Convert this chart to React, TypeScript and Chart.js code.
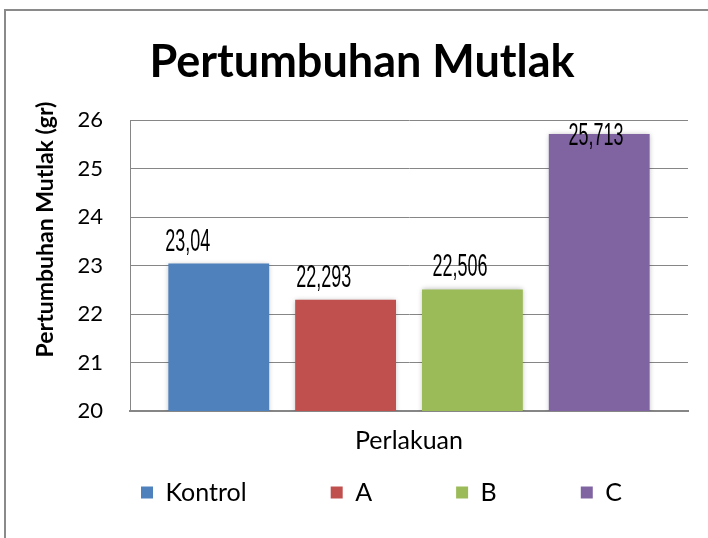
import React, { useEffect, useRef } from 'react';
import { Chart, registerables } from 'chart.js';

Chart.register(...registerables);

// ---- data ----
const categories: string[] = ['Kontrol', 'A', 'B', 'C'];
const values: number[] = [23.04, 22.293, 22.506, 25.713];
const colors: string[] = ['#4F81BD', '#C0504D', '#9BBB59', '#8064A2'];
const yTicks: number[] = [20, 21, 22, 23, 24, 25, 26];
const chartTitle = 'Pertumbuhan Mutlak';
const yTitle = 'Pertumbuhan Mutlak (gr)';
const xTitle = 'Perlakuan';

// ---- styles ----
const FONT = "Lato, 'Open Sans', sans-serif";
const GRID = '#868686';
const LABEL_SPREAD = 1.073;
const LABEL_SHIFT = -37.5;
const LABEL_GAP = 13;
const LABEL_MIN_TOP = 25;
const LABEL_SQUEEZE = 0.58;
const LEGEND_INDENT = 11;
const LEGEND_ITEM_OFFSET = 22;

const fmt = (v: number) => String(v).replace('.', ',');

const shadowPlugin = {
  id: 'barShadow',
  beforeDatasetsDraw(chart: any) {
    const ctx = chart.ctx;
    ctx.save();
    ctx.shadowColor = 'rgba(0,0,0,0.28)';
    ctx.shadowBlur = 5;
    ctx.shadowOffsetX = 0;
    ctx.shadowOffsetY = 0;
  },
  afterDatasetsDraw(chart: any) {
    chart.ctx.restore();
  },
};

const valueLabelPlugin = {
  id: 'valueLabels',
  afterDatasetsDraw(chart: any) {
    const { ctx, chartArea } = chart;
    const meta = chart.getDatasetMeta(0);
    ctx.save();
    ctx.fillStyle = '#000';
    ctx.font = "31px 'Liberation Sans', Arial, sans-serif";
    ctx.textAlign = 'center';
    ctx.textBaseline = 'alphabetic';
    meta.data.forEach((bar: any, i: number) => {
      const x = chartArea.left + (bar.x - chartArea.left) * LABEL_SPREAD + LABEL_SHIFT;
      const y = Math.max(bar.y - LABEL_GAP, chartArea.top + LABEL_MIN_TOP);
      ctx.save();
      ctx.translate(x, y);
      ctx.scale(LABEL_SQUEEZE, 1);
      ctx.fillText(fmt(values[i]), 0, 0);
      ctx.restore();
    });
    ctx.restore();
  },
};

const yTitlePlugin = {
  id: 'yTitle',
  afterDraw(chart: any) {
    const { ctx, chartArea } = chart;
    ctx.save();
    ctx.translate(chartArea.left - 84, (chartArea.top + chartArea.bottom) / 2 - 36);
    ctx.rotate(-Math.PI / 2);
    ctx.font = `bold 23px ${FONT}`;
    ctx.fillStyle = '#000';
    ctx.textAlign = 'center';
    ctx.textBaseline = 'middle';
    ctx.fillText(yTitle, 0, 0);
    ctx.restore();
  },
};

const legendPlacePlugin = {
  id: 'legendPlace',
  afterLayout(chart: any) {
    const lg = chart.legend;
    if (!lg) return;
    const P = lg.options.labels.padding;
    const dx = chart.chartArea.left + LEGEND_INDENT - (lg.left + P);
    lg.left += dx;
    lg.right += dx;
    lg.top += LEGEND_ITEM_OFFSET - P;
  },
};

export default function App() {
  const ref = useRef<HTMLCanvasElement | null>(null);

  useEffect(() => {
    if (!ref.current) return;
    const chart = new Chart(ref.current, {
      type: 'bar',
      data: {
        labels: categories,
        datasets: [
          {
            label: chartTitle,
            data: values.map((v, i) => ({ x: i, y: v })),
            backgroundColor: colors,
            borderWidth: 0,
            barPercentage: 0.795,
            categoryPercentage: 1,
          },
        ],
      },
      options: {
        responsive: false,
        animation: false,
        layout: { padding: { left: 16, right: 0, top: 0, bottom: 0 } },
        scales: {
          x: {
            type: 'linear',
            offset: false,
            min: -0.7,
            max: categories.length - 0.3,
            afterBuildTicks: (axis: any) => {
              axis.ticks = categories.map((_, i) => ({ value: i }));
            },
            ticks: { display: false },
            grid: { display: false, drawTicks: false },
            border: { display: true, color: GRID, width: 2 },
            title: {
              display: true,
              text: xTitle,
              color: '#000',
              font: { family: FONT, size: 25 },
              padding: { top: 15, bottom: 2 },
            },
          },
          y: {
            min: yTicks[0],
            max: yTicks[yTicks.length - 1],
            ticks: {
              stepSize: 1,
              padding: 27,
              color: '#000',
              font: { family: FONT, size: 22 },
            },
            grid: { color: GRID, lineWidth: 1, drawTicks: false },
            border: { display: true, color: GRID, width: 1 },
            afterFit: (axis: any) => {
              axis.width = 114;
            },
          },
          y2: {
            position: 'right',
            display: true,
            ticks: { display: false },
            grid: { display: false, drawTicks: false },
            border: { display: false },
            afterFit: (axis: any) => {
              axis.width = 20;
            },
          },
        },
        plugins: {
          title: {
            display: true,
            text: chartTitle,
            color: '#000',
            font: { family: FONT, size: 45, weight: 'bold' },
            padding: { top: 35, bottom: 31 },
          },
          legend: {
            position: 'bottom',
            align: 'start',
            maxHeight: 80,
            labels: {
              boxWidth: 12,
              boxHeight: 12,
              padding: 84,
              color: '#000',
              font: { family: FONT, size: 25 },
              generateLabels: (c: any) =>
                c.data.labels.map((l: string, i: number) => ({
                  text: l,
                  fillStyle: colors[i],
                  strokeStyle: colors[i],
                  lineWidth: 0,
                  hidden: false,
                  index: i,
                  datasetIndex: 0,
                })),
            },
          },
          tooltip: { enabled: false },
        },
      } as any,
      plugins: [shadowPlugin, valueLabelPlugin, yTitlePlugin, legendPlacePlugin],
    });
    return () => chart.destroy();
  }, []);

  return (
    <div
      style={{
        position: 'fixed',
        left: 0,
        top: 0,
        width: 708,
        height: 538,
        overflow: 'hidden',
        background: '#fff',
      }}
    >
      <div
        style={{
          position: 'absolute',
          left: 4,
          top: 9,
          width: 760,
          height: 600,
          border: '2px solid #8a8a8a',
          boxSizing: 'border-box',
        }}
      />
      <canvas
        ref={ref}
        width={708}
        height={538}
        style={{ position: 'absolute', left: 0, top: 0, width: 708, height: 538 }}
      />
    </div>
  );
}
